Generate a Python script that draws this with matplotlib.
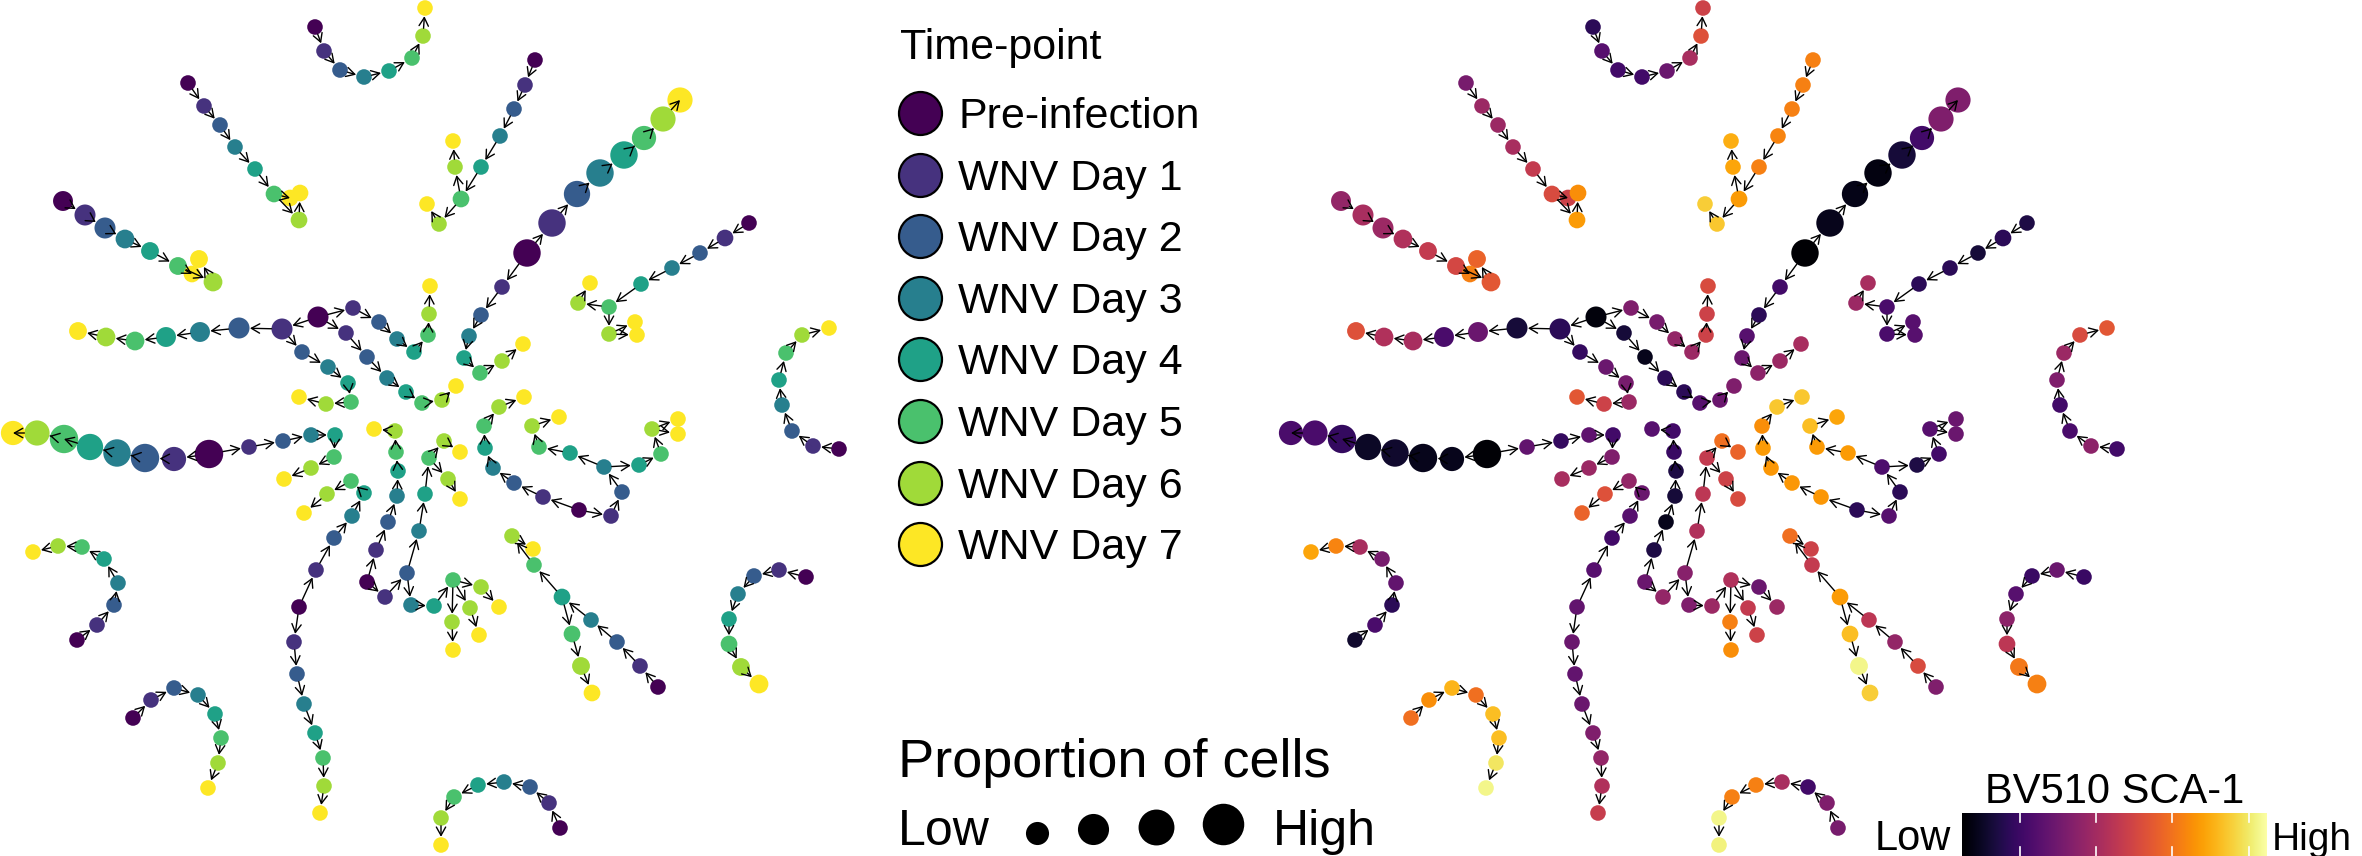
import numpy as np
import matplotlib
matplotlib.use("Agg")
import matplotlib.pyplot as plt
from matplotlib.patches import FancyArrowPatch

plt.rcParams['font.family'] = ['Liberation Sans', 'DejaVu Sans']

timepoints = ['Pre-infection', 'WNV Day 1', 'WNV Day 2', 'WNV Day 3',
              'WNV Day 4', 'WNV Day 5', 'WNV Day 6', 'WNV Day 7']

# number of nodes in each tree of the trajectory network
tree_sizes = [8, 9, 9, 28, 10, 15, 11, 8, 15, 15, 26, 20, 11, 8, 8, 8, 8]

# layout coordinates of each node (same layout for both panels)
node_x = [
    315, 324, 340, 364, 389, 412, 423, 425,
    188, 204, 220, 235, 255, 274, 290, 299, 300,
    63, 85, 105, 125, 150, 178, 199, 192, 213,
    318, 282, 239, 200, 166, 135, 106, 78, 353, 379, 397, 414, 428, 429, 430,
    346, 367, 387, 406, 422, 442, 456, 302, 328, 348, 351, 326, 299,
    535, 525, 514, 500, 481, 461, 455, 453, 439, 427,
    527, 552, 577, 600, 624, 644, 663, 680, 502, 481, 469, 464, 480, 502, 523,
    749, 725, 700, 672, 641, 609, 578, 590, 609, 635, 637,
    839, 813, 792, 782, 779, 786, 802, 829,
    209, 174, 145, 117, 90, 64, 37, 13, 249, 283, 311, 335, 334, 311, 284,
    299, 316, 334, 352, 364, 351, 327, 304, 294, 297, 304, 315, 323, 324, 320,
    367, 376, 388, 397, 398, 396, 395, 374, 385, 407, 419, 425, 429, 444, 460, 448, 460,
    411, 434, 453, 481, 499, 452, 453, 470, 479,
    579, 543, 514, 493, 485, 484, 499, 524, 611, 622, 604, 570, 539, 532, 559,
    639, 661, 652, 678, 678,
    658, 640, 617, 591, 562, 572, 581, 592, 534, 512, 533,
    806, 779, 754, 738, 729, 729, 741, 759,
    77, 97, 114, 118, 104, 82, 58, 33,
    133, 151, 174, 198, 215, 221, 218, 208,
    560, 549, 530, 504, 478, 454, 441, 441,
]
node_y = [
    27, 51, 70, 77, 71, 58, 36, 8,
    83, 106, 125, 147, 169, 194, 198, 220, 193,
    201, 215, 228, 239, 251, 266, 259, 274, 282,
    317, 329, 328, 332, 337, 341, 337, 331, 308, 322, 339, 352, 335, 314, 286,
    333, 357, 378, 392, 403, 400, 386, 352, 367, 383, 402, 404, 397,
    60, 85, 109, 136, 167, 199, 167, 141, 224, 204,
    253, 223, 194, 173, 155, 138, 119, 100, 287, 315, 336, 358, 373, 361, 344,
    223, 238, 253, 268, 284, 307, 303, 283, 334, 322, 335,
    449, 446, 431, 405, 380, 353, 335, 328,
    454, 459, 458, 453, 447, 439, 433, 433, 447, 441, 435, 435, 457, 468, 479,
    607, 570, 538, 516, 493, 481, 494, 513, 642, 674, 704, 733, 758, 786, 813,
    582, 550, 522, 496, 471, 452, 431, 429, 597, 573, 531, 494, 458, 441, 452, 479, 499,
    605, 606, 580, 587, 607, 622, 650, 608, 635,
    510, 497, 483, 468, 448, 426, 407, 397, 516, 492, 467, 453, 447, 426, 417,
    465, 454, 429, 419, 434,
    687, 666, 642, 620, 597, 634, 666, 693, 565, 536, 549,
    577, 570, 576, 594, 619, 644, 667, 684,
    640, 625, 605, 583, 559, 547, 546, 552,
    718, 700, 688, 695, 714, 738, 763, 788,
    828, 803, 787, 782, 785, 797, 818, 845,
]
# time-point index (0 = pre-infection ... 7 = day 7)
node_day = [
    0, 1, 2, 3, 4, 5, 6, 7,
    0, 1, 2, 3, 4, 5, 7, 6, 7,
    0, 1, 2, 3, 4, 5, 7, 7, 6,
    0, 1, 2, 3, 4, 5, 6, 7, 1, 2, 3, 4, 5, 6, 7,
    1, 2, 3, 4, 5, 6, 7, 2, 3, 4, 5, 6, 7,
    0, 1, 2, 3, 4, 5, 6, 7, 6, 7,
    0, 1, 2, 3, 4, 5, 6, 7, 1, 2, 3, 4, 5, 6, 7,
    0, 1, 2, 3, 4, 5, 6, 7, 6, 7, 7,
    0, 1, 2, 3, 4, 5, 6, 7,
    0, 1, 2, 3, 4, 5, 6, 7, 1, 2, 3, 4, 5, 6, 7,
    0, 1, 2, 3, 4, 5, 6, 7, 1, 2, 3, 4, 5, 6, 7,
    0, 1, 2, 3, 4, 5, 6, 7, 1, 2, 3, 4, 5, 6, 7, 6, 7,
    3, 4, 5, 6, 7, 6, 7, 6, 7,
    0, 1, 2, 3, 4, 5, 6, 7, 1, 2, 3, 4, 5, 6, 7,
    4, 5, 6, 7, 7,
    0, 1, 2, 3, 4, 5, 6, 7, 5, 6, 7,
    0, 1, 2, 3, 4, 5, 6, 7,
    0, 1, 2, 3, 4, 5, 6, 7,
    0, 1, 2, 3, 4, 5, 6, 7,
    0, 1, 2, 3, 4, 5, 6, 7,
]
# relative proportion of cells in each node (0-1)
node_prop = [
    .13, .13, .13, .13, .13, .13, .13, .13,
    .13, .13, .13, .13, .13, .2, .2, .2, .2,
    .4, .47, .47, .33, .27, .27, .27, .2, .33,
    .47, .47, .47, .4, .4, .33, .33, .27, .13, .13, .13, .13, .13, .13, .13,
    .13, .13, .13, .13, .13, .13, .13, .13, .13, .13, .13, .13, .13,
    .13, .13, .13, .13, .13, .2, .13, .13, .13, .13,
    .87, .87, .8, .87, .87, .67, .73, .73, .13, .13, .13, .13, .13, .13, .13,
    .13, .2, .13, .13, .13, .13, .13, .13, .13, .13, .13,
    .13, .13, .13, .13, .13, .13, .13, .13,
    .93, .67, .93, .87, .8, .93, .73, .67, .13, .13, .13, .13, .13, .13, .13,
    .13, .13, .13, .13, .13, .13, .13, .13, .13, .13, .13, .13, .13, .13, .13,
    .13, .13, .13, .13, .13, .13, .13, .13, .13, .13, .13, .13, .13, .13, .13, .13, .13,
    .13, .13, .13, .13, .13, .13, .13, .13, .13,
    .13, .13, .13, .13, .13, .13, .13, .13, .13, .13, .13, .13, .13, .13, .13,
    .13, .13, .13, .13, .13,
    .13, .13, .13, .13, .2, .2, .27, .2, .13, .13, .13,
    .13, .13, .13, .13, .13, .2, .27, .33,
    .13, .13, .13, .13, .13, .13, .13, .13,
    .13, .13, .13, .13, .13, .13, .13, .13,
    .13, .13, .13, .13, .13, .13, .13, .13,
]
# scaled BV510 SCA-1 expression (0 = low, 1 = high)
node_sca1 = [
    .15, .25, .2, .2, .3, .45, .6, .55,
    .33, .42, .42, .45, .52, .58, .55, .78, .75,
    .4, .45, .42, .47, .52, .57, .65, .72, .62,
    .02, .15, .1, .3, .22, .45, .47, .6, .35, .33, .4, .42, .55, .55, .58,
    .1, .05, .15, .15, .25, .3, .35, .17, .3, .33, .42, .55, .62,
    .72, .72, .72, .73, .72, .78, .8, .82, .87, .88,
    0, .05, .04, .03, .1, .2, .35, .35, .2, .15, .25, .3, .38, .42, .45,
    .12, .15, .1, .15, .15, .22, .42, .45, .22, .25, .25,
    .2, .38, .22, .2, .35, .42, .58, .62,
    .01, .05, .05, .08, .07, .17, .22, .22, .28, .17, .27, .2, .35, .42, .45,
    .28, .25, .2, .25, .3, .4, .6, .65, .3, .28, .3, .35, .4, .47, .53,
    .3, .12, .05, .1, .12, .18, .2, .25, .4, .37, .47, .5, .52, .68, .65, .55, .58,
    .35, .42, .47, .3, .42, .72, .75, .52, .55,
    .15, .77, .77, .77, .78, .75, .87, .87, .25, .15, .23, .78, .78, .85, .8,
    .12, .2, .25, .3, .3,
    .35, .58, .4, .5, .78, .85, .97, .88, .52, .68, .55,
    .18, .3, .18, .25, .38, .5, .7, .72,
    .08, .22, .15, .28, .33, .45, .73, .8,
    .68, .75, .83, .68, .85, .85, .93, .97,
    .33, .35, .2, .45, .72, .72, .97, .96,
]
# parent node within the same tree (-1 = root); arrow goes parent -> child
node_parent = [
    -1, 0, 1, 2, 3, 4, 5, 6,
    -1, 0, 1, 2, 3, 4, 5, 5, 7,
    -1, 0, 1, 2, 3, 4, 8, 5, 5,
    -1, 0, 1, 2, 3, 4, 5, 6, 0, 8, 9, 10, 11, 12, 13,
    0, 15, 16, 17, 18, 19, 20, 1, 22, 23, 24, 25, 26,
    -1, 0, 1, 2, 3, 4, 5, 6, 5, 8,
    -1, 0, 1, 2, 3, 4, 5, 6, 0, 8, 9, 10, 11, 12, 13,
    -1, 0, 1, 2, 3, 4, 5, 6, 5, 8, 8,
    -1, 0, 1, 2, 3, 4, 5, 6,
    -1, 0, 1, 2, 3, 4, 5, 6, 0, 8, 9, 10, 11, 12, 13,
    -1, 0, 1, 2, 3, 4, 5, 6, 0, 8, 9, 10, 11, 12, 13,
    -1, 0, 1, 2, 3, 4, 5, 6, 0, 8, 9, 10, 11, 12, 13, 12, 15,
    9, 17, 18, 19, 20, 19, 22, 19, 24,
    -1, 0, 1, 2, 3, 4, 5, 6, 0, 8, 9, 10, 11, 12, 13,
    10, 15, 16, 17, 17,
    -1, 0, 1, 2, 3, 4, 5, 6, 4, 8, 9,
    -1, 0, 1, 2, 3, 4, 5, 6,
    -1, 0, 1, 2, 3, 4, 5, 6,
    -1, 0, 1, 2, 3, 4, 5, 6,
    -1, 0, 1, 2, 3, 4, 5, 6,
]

size_legend_breaks = [0.6, 1.1, 1.4, 1.75]
cbar_ticks = [0.19, 0.44, 0.69, 0.94]

W, H = 2362, 856
DPI = 100
PX = 72 / DPI          # points per pixel
PANEL_W = 860
RIGHT_SHIFT = 1278


def node_diam(p):
    return 13.5 + 16 * np.asarray(p)


n = len(node_x)
assert all(len(a) == n for a in (node_y, node_day, node_prop, node_sca1, node_parent))
assert sum(tree_sizes) == n

offsets = np.cumsum([0] + tree_sizes[:-1])
tree_of = np.repeat(np.arange(len(tree_sizes)), tree_sizes)
parents = [offsets[t] + p if p >= 0 else -1 for t, p in zip(tree_of, node_parent)]

fig = plt.figure(figsize=(W / DPI, H / DPI), dpi=DPI)


def draw_network(left, colors):
    ax = fig.add_axes([left / W, 0, PANEL_W / W, 1])
    ax.set_xlim(0, PANEL_W)
    ax.set_ylim(H, 0)
    ax.axis('off')
    d = node_diam(node_prop)
    ax.scatter(node_x, node_y, s=(d * PX) ** 2, c=colors, linewidths=0, zorder=2)
    for i, p in enumerate(parents):
        if p < 0:
            continue
        arr = FancyArrowPatch((node_x[p], node_y[p]), (node_x[i], node_y[i]),
                              arrowstyle='->,head_length=0.5,head_width=0.28',
                              mutation_scale=12, shrinkA=d[p] / 2 * PX,
                              shrinkB=d[i] / 2 * PX + 0.3, lw=1.0,
                              color='black', zorder=3)
        ax.add_patch(arr)
    return ax


day_colors = plt.cm.viridis(np.linspace(0, 1, 8))
draw_network(0, day_colors[np.array(node_day)])
draw_network(RIGHT_SHIFT, plt.cm.inferno(np.array(node_sca1)))

# legends drawn on an overlay in pixel units
lg = fig.add_axes([0, 0, 1, 1], zorder=-1)
lg.set_xlim(0, W)
lg.set_ylim(H, 0)
lg.axis('off')

lg.text(900, 59, 'Time-point', fontsize=31, va='baseline', ha='left')
for k, lab in enumerate(timepoints):
    yc = 113 + 61.6 * k
    lg.scatter([920], [yc], s=(43 * PX) ** 2, color=day_colors[k],
               edgecolors='black', linewidths=1.6)
    lg.text(958, yc + 15, lab, fontsize=31, va='baseline', ha='left')

lg.text(898, 777, 'Proportion of cells', fontsize=39, va='baseline', ha='left')
lg.text(898, 845, 'Low', fontsize=36, va='baseline', ha='left')
lg.text(1273, 845, 'High', fontsize=36, va='baseline', ha='left')
for xc, b in zip([1037, 1093, 1156, 1223], size_legend_breaks):
    dd = 13.5 + 16 * b
    lg.scatter([xc], [845 - dd / 2], s=(dd * PX) ** 2, color='black', linewidths=0)

# colourbar
cax = fig.add_axes([1962 / W, 0, 305 / W, 43 / H])
cax.imshow(np.linspace(0, 1, 256)[None, :], aspect='auto', cmap='inferno',
           extent=(0, 1, 0, 1))
for t in cbar_ticks:
    cax.plot([t, t], [0, 0.2], color='white', lw=1.2)
    cax.plot([t, t], [0.8, 1], color='white', lw=1.2)
cax.set_xlim(0, 1)
cax.set_ylim(0, 1)
cax.axis('off')
lg.text(2115, 803, 'BV510 SCA-1', fontsize=30, va='baseline', ha='center')
lg.text(1951, 850, 'Low', fontsize=30, va='baseline', ha='right')
lg.text(2272, 850, 'High', fontsize=28, va='baseline', ha='left')

fig.savefig('out.png', dpi=DPI)
